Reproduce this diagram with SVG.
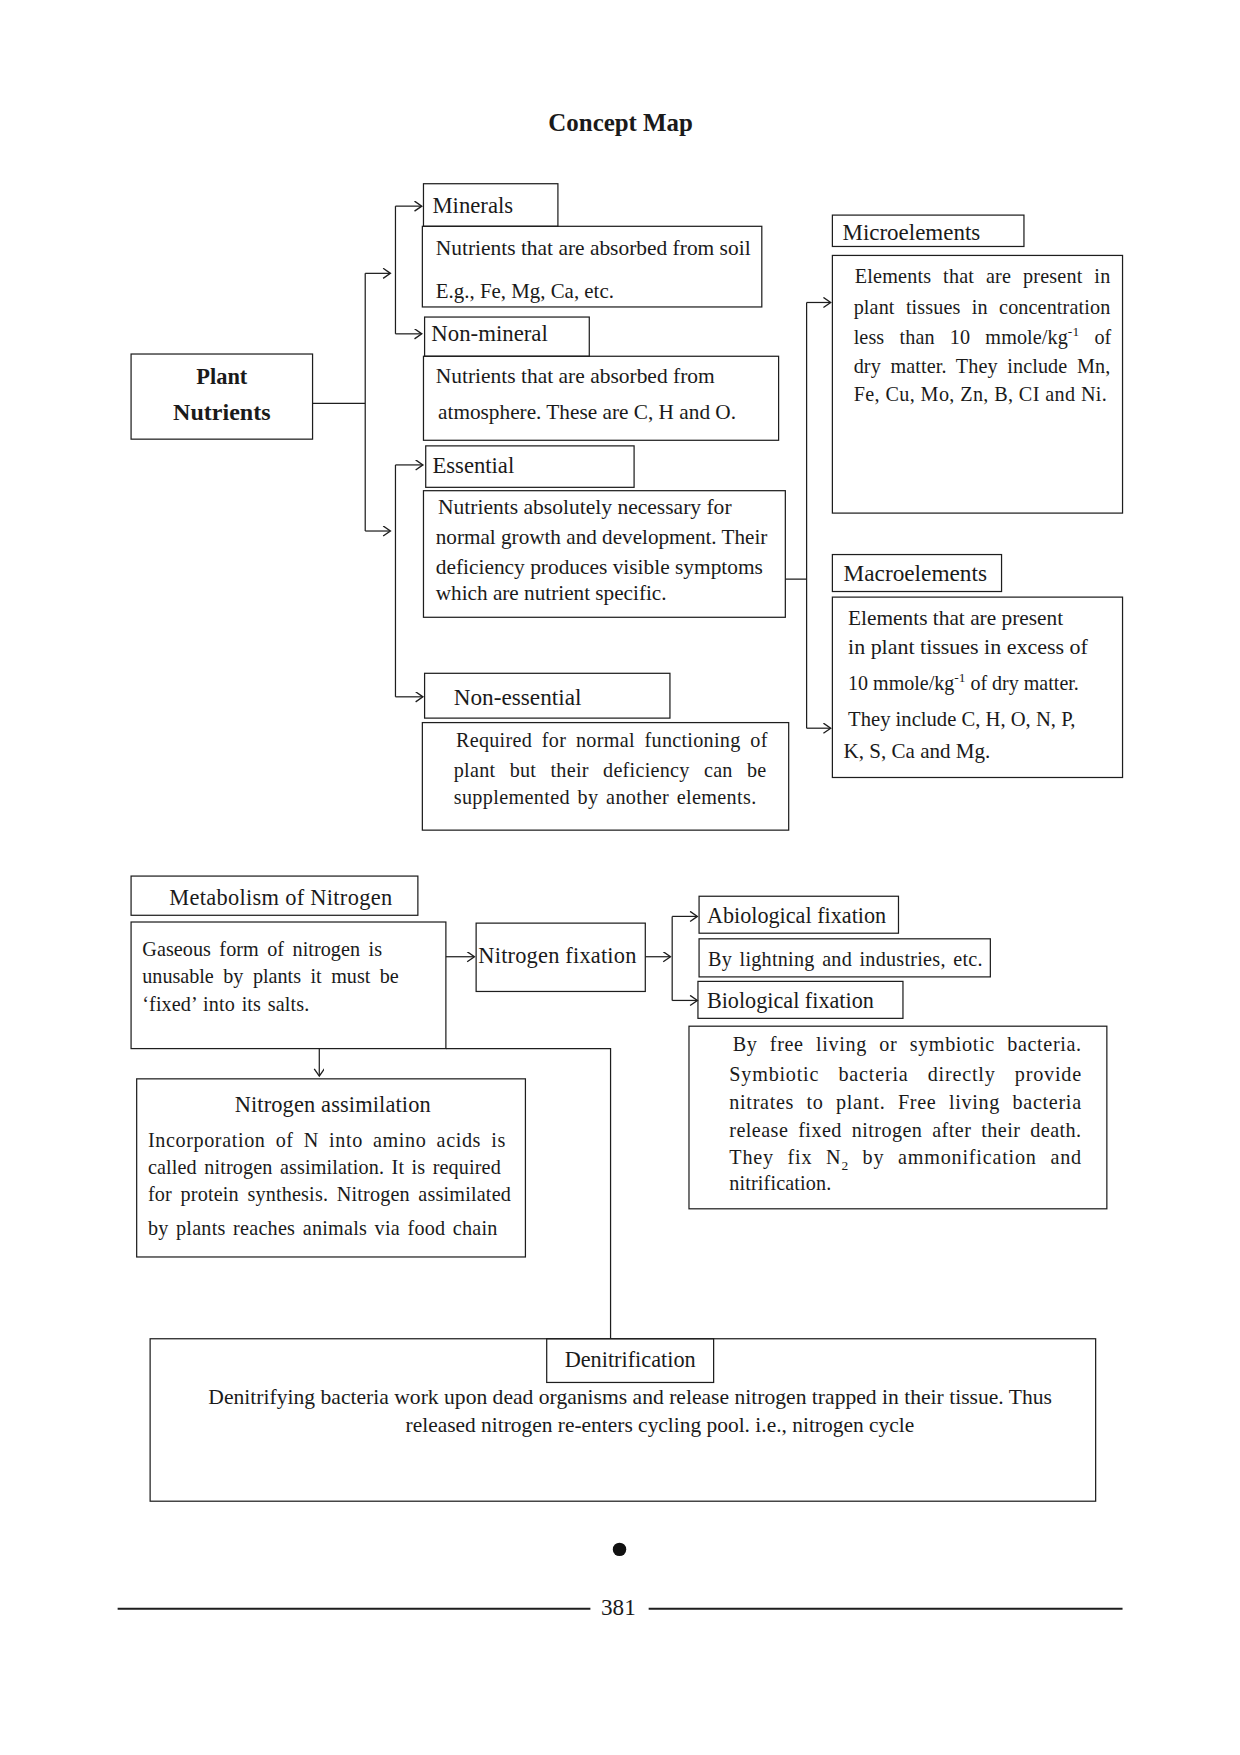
<svg xmlns="http://www.w3.org/2000/svg" width="1240" height="1755" viewBox="0 0 1240 1755">
<defs>
<style>
.b{fill:none;stroke:#1e1e1e;stroke-width:1.1}
.c{fill:none;stroke:#1e1e1e;stroke-width:1.1}
text{font-family:"Liberation Serif","Times New Roman",serif;fill:#1a1a1a}
.h{font-size:20px}
.t{font-size:18px}
.bold{font-weight:bold}
</style>
<marker id="ar" markerWidth="10" markerHeight="10" refX="7" refY="4.5" orient="auto" markerUnits="userSpaceOnUse">
<path d="M1,0 L7.5,4.5 L1,9" fill="none" stroke="#1e1e1e" stroke-width="1.2"/>
</marker>
</defs>
<rect width="1240" height="1755" fill="#fff"/>
<g transform="scale(1.1203)">
<text x="554" y="117" text-anchor="middle" class="bold" font-size="22" textLength="129" lengthAdjust="spacingAndGlyphs">Concept Map</text>

<g id="connectors">
<path class="c" d="M279,360 H326 M326,244 V474"/>
<path class="c" d="M326,244 H348" marker-end="url(#ar)"/>
<path class="c" d="M326,474 H348" marker-end="url(#ar)"/>
<path class="c" d="M353,184 V298"/>
<path class="c" d="M353,184 H376" marker-end="url(#ar)"/>
<path class="c" d="M353,298 H376" marker-end="url(#ar)"/>
<path class="c" d="M353,415 V622"/>
<path class="c" d="M353,415 H377" marker-end="url(#ar)"/>
<path class="c" d="M353,622 H377" marker-end="url(#ar)"/>
<path class="c" d="M701,517 H720 M720,270 V650"/>
<path class="c" d="M720,270 H741" marker-end="url(#ar)"/>
<path class="c" d="M720,650 H741" marker-end="url(#ar)"/>
<path class="c" d="M398,854 H423" marker-end="url(#ar)"/>
<path class="c" d="M576,854 H598" marker-end="url(#ar)"/>
<path class="c" d="M600,818 V893"/>
<path class="c" d="M600,818 H622" marker-end="url(#ar)"/>
<path class="c" d="M600,893 H622" marker-end="url(#ar)"/>
<path class="c" d="M285,936 V960" marker-end="url(#ar)"/>
<path class="c" d="M398,936 H545 V1195"/>
</g>

<g id="plant-nutrients">
<rect class="b" x="117" y="316" width="162" height="76"/>
<text x="198" y="343" text-anchor="middle" class="h bold">Plant</text>
<text x="198" y="375" text-anchor="middle" class="h bold" textLength="87" lengthAdjust="spacingAndGlyphs">Nutrients</text>
</g>

<g id="minerals">
<rect class="b" x="378" y="164" width="120" height="38"/>
<text x="386" y="190" class="h" textLength="72" lengthAdjust="spacingAndGlyphs">Minerals</text>
</g>
<g id="minerals-desc">
<rect class="b" x="377" y="202" width="303" height="72"/>
<text x="389" y="228" class="t" textLength="281" lengthAdjust="spacingAndGlyphs">Nutrients that are absorbed from soil</text>
<text x="389" y="266" class="t" textLength="159" lengthAdjust="spacingAndGlyphs">E.g., Fe, Mg, Ca, etc.</text>
</g>

<g id="non-mineral">
<rect class="b" x="379" y="283" width="147" height="35"/>
<text x="385" y="304" class="h" textLength="104" lengthAdjust="spacingAndGlyphs">Non-mineral</text>
</g>
<g id="non-mineral-desc">
<rect class="b" x="378" y="318" width="317" height="75"/>
<text x="389" y="342" class="t" textLength="249" lengthAdjust="spacingAndGlyphs">Nutrients that are absorbed from</text>
<text x="391" y="374" class="t" textLength="266" lengthAdjust="spacingAndGlyphs">atmosphere. These are C, H and O.</text>
</g>

<g id="essential">
<rect class="b" x="380" y="398" width="186" height="37"/>
<text x="386" y="422" class="h" textLength="73" lengthAdjust="spacingAndGlyphs">Essential</text>
</g>
<g id="essential-desc">
<rect class="b" x="378" y="438" width="323" height="113"/>
<text x="391" y="459" class="t" textLength="262" lengthAdjust="spacingAndGlyphs">Nutrients absolutely necessary for</text>
<text x="389" y="486" class="t" textLength="296" lengthAdjust="spacingAndGlyphs">normal growth and development. Their</text>
<text x="389" y="512" class="t" textLength="292" lengthAdjust="spacingAndGlyphs">deficiency produces visible symptoms</text>
<text x="389" y="536" class="t" textLength="206" lengthAdjust="spacingAndGlyphs">which are nutrient specific.</text>
</g>

<g id="non-essential">
<rect class="b" x="379" y="601" width="219" height="40"/>
<text x="405" y="629" class="h" textLength="114" lengthAdjust="spacingAndGlyphs">Non-essential</text>
</g>
<g id="non-essential-desc">
<rect class="b" x="377" y="645" width="327" height="96"/>
<text x="407" y="667" class="t" word-spacing="4" textLength="278" lengthAdjust="spacing">Required for normal functioning of</text>
<text x="405" y="694" class="t" word-spacing="8" textLength="279" lengthAdjust="spacing">plant but their deficiency can be</text>
<text x="405" y="718" class="t" word-spacing="2" textLength="270" lengthAdjust="spacing">supplemented by another elements.</text>
</g>

<g id="microelements">
<rect class="b" x="743" y="192" width="171" height="28"/>
<text x="752" y="214" class="h" textLength="123" lengthAdjust="spacingAndGlyphs">Microelements</text>
</g>
<g id="microelements-desc">
<rect class="b" x="743" y="228" width="259" height="230"/>
<text x="763" y="253" class="t" word-spacing="6" textLength="228" lengthAdjust="spacing">Elements that are present in</text>
<text x="762" y="280" class="t" word-spacing="5.5" textLength="229" lengthAdjust="spacing">plant tissues in concentration</text>
<text x="762" y="307" class="t" word-spacing="9" textLength="230" lengthAdjust="spacing">less than 10 mmole/kg<tspan dy="-7" font-size="12">-1</tspan><tspan dy="7"> of</tspan></text>
<text x="762" y="333" class="t" word-spacing="4" textLength="229" lengthAdjust="spacing">dry matter. They include Mn,</text>
<text x="762" y="358" class="t" textLength="226" lengthAdjust="spacing">Fe, Cu, Mo, Zn, B, CI and Ni.</text>
</g>

<g id="macroelements">
<rect class="b" x="743" y="495" width="151" height="33"/>
<text x="753" y="519" class="h" textLength="128" lengthAdjust="spacingAndGlyphs">Macroelements</text>
</g>
<g id="macroelements-desc">
<rect class="b" x="743" y="533" width="259" height="161"/>
<text x="757" y="558" class="t" textLength="192" lengthAdjust="spacingAndGlyphs">Elements that are present</text>
<text x="757" y="584" class="t" textLength="214" lengthAdjust="spacingAndGlyphs">in plant tissues in excess of</text>
<text x="757" y="616" class="t" textLength="206" lengthAdjust="spacingAndGlyphs">10 mmole/kg<tspan dy="-7" font-size="12">-1</tspan><tspan dy="7"> of dry matter.</tspan></text>
<text x="757" y="648" class="t" textLength="203" lengthAdjust="spacingAndGlyphs">They include C, H, O, N, P,</text>
<text x="753" y="677" class="t" textLength="131" lengthAdjust="spacingAndGlyphs">K, S, Ca and Mg.</text>
</g>

<g id="metabolism">
<rect class="b" x="117" y="782" width="256" height="35"/>
<text x="151" y="808" class="h" textLength="199" lengthAdjust="spacing">Metabolism of Nitrogen</text>
</g>
<g id="metabolism-desc">
<rect class="b" x="117" y="823" width="281" height="113"/>
<text x="127" y="853" class="t" word-spacing="3" textLength="214" lengthAdjust="spacing">Gaseous form of nitrogen is</text>
<text x="127" y="877" class="t" word-spacing="4" textLength="229" lengthAdjust="spacing">unusable by plants it must be</text>
<text x="127" y="902" class="t" word-spacing="1.5" textLength="149" lengthAdjust="spacing">‘fixed’ into its salts.</text>
</g>

<g id="nitrogen-fixation">
<rect class="b" x="425" y="824" width="151" height="61"/>
<text x="427" y="860" class="h" textLength="141" lengthAdjust="spacing">Nitrogen fixation</text>
</g>

<g id="abiological">
<rect class="b" x="624" y="800" width="178" height="33"/>
<text x="631" y="824" class="h" textLength="160" lengthAdjust="spacingAndGlyphs">Abiological fixation</text>
</g>
<g id="abiological-desc">
<rect class="b" x="624" y="838" width="260" height="34"/>
<text x="632" y="862" class="t" word-spacing="2" textLength="245" lengthAdjust="spacing">By lightning and industries, etc.</text>
</g>
<g id="biological">
<rect class="b" x="623" y="876" width="183" height="33"/>
<text x="631" y="900" class="h" textLength="149" lengthAdjust="spacingAndGlyphs">Biological fixation</text>
</g>
<g id="biological-desc">
<rect class="b" x="615" y="916" width="373" height="163"/>
<text x="654" y="938" class="t" word-spacing="6" textLength="311" lengthAdjust="spacing">By free living or symbiotic bacteria.</text>
<text x="651" y="965" class="t" word-spacing="12" textLength="314" lengthAdjust="spacing">Symbiotic bacteria directly provide</text>
<text x="651" y="990" class="t" word-spacing="6" textLength="314" lengthAdjust="spacing">nitrates to plant. Free living bacteria</text>
<text x="651" y="1015" class="t" word-spacing="4" textLength="314" lengthAdjust="spacing">release fixed nitrogen after their death.</text>
<text x="651" y="1039" class="t" word-spacing="7" textLength="314" lengthAdjust="spacing">They fix N<tspan dy="5" font-size="12">2</tspan><tspan dy="-5"> by ammonification and</tspan></text>
<text x="651" y="1062" class="t" textLength="91" lengthAdjust="spacing">nitrification.</text>
</g>

<g id="assimilation">
<rect class="b" x="122" y="963" width="347" height="159"/>
<text x="297" y="993" class="h" text-anchor="middle" textLength="175" lengthAdjust="spacing">Nitrogen assimilation</text>
<text x="132" y="1024" class="t" word-spacing="4" textLength="319" lengthAdjust="spacing">Incorporation of N into amino acids is</text>
<text x="132" y="1048" class="t" word-spacing="2" textLength="315" lengthAdjust="spacing">called nitrogen assimilation. It is required</text>
<text x="132" y="1072" class="t" word-spacing="3" textLength="324" lengthAdjust="spacing">for protein synthesis. Nitrogen assimilated</text>
<text x="132" y="1102" class="t" word-spacing="2" textLength="312" lengthAdjust="spacing">by plants reaches animals via food chain</text>
</g>

<g id="denitrification">
<rect class="b" x="134" y="1195" width="844" height="145"/>
<rect class="b" x="488" y="1195" width="149" height="39"/>
<text x="504" y="1220" class="h" textLength="117" lengthAdjust="spacingAndGlyphs">Denitrification</text>
<text x="186" y="1253" class="t" textLength="753" lengthAdjust="spacingAndGlyphs">Denitrifying bacteria work upon dead organisms and release nitrogen trapped in their tissue. Thus</text>
<text x="362" y="1278" class="t" textLength="454" lengthAdjust="spacingAndGlyphs">released nitrogen re-enters cycling pool. i.e., nitrogen cycle</text>
</g>

<circle cx="553" cy="1383" r="6" fill="#111"/>
<path d="M105,1436 H527 M579,1436 H1002" stroke="#1e1e1e" stroke-width="2"/>
<text x="552" y="1442" text-anchor="middle" class="h" textLength="31" lengthAdjust="spacingAndGlyphs">381</text>
</g>
</svg>
